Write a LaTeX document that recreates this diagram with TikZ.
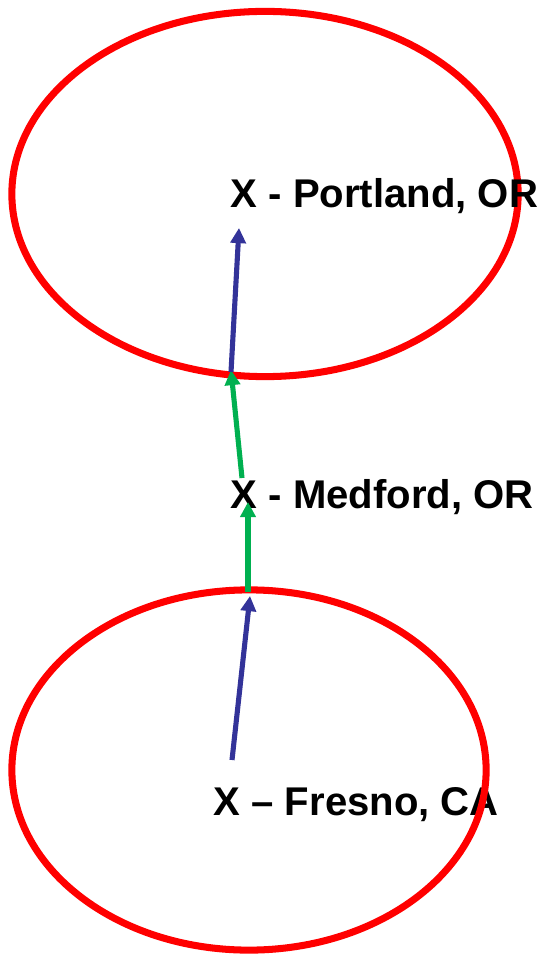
\documentclass[tikz,border=0pt]{standalone}
\usepackage{fontspec}
\setmainfont{Liberation Sans}
\usepackage{tikz}
\usetikzlibrary{arrows.meta,shapes.geometric}
\definecolor{ringred}{RGB}{255,0,0}
\definecolor{legblue}{RGB}{51,51,153}
\definecolor{leggreen}{RGB}{0,176,80}

\begin{document}
\begin{tikzpicture}[
  x=0.01cm,y=-0.01cm,
  ring/.style={ellipse,draw=ringred,line width=2.0pt,inner sep=0pt},
  city/.style={font=\fontsize{11.4pt}{13pt}\selectfont\bfseries,anchor=base west,inner sep=0pt},
  bl/.style={legblue,line width=1.45pt,-{Triangle[length=4.3pt,width=4.3pt]}},
  gr/.style={leggreen,line width=1.45pt,-{Triangle[length=4.3pt,width=4.3pt]}}]

\useasboundingbox (0,0) rectangle (538,958);

% ================= upper region =================
\node[ring,minimum width=5.06cm,minimum height=3.65cm](top) at (265,194){};
\node[city](por) at (230,208){X - Portland, OR};

% ================= middle stop =================
\node[city](med) at (230,508){X - Medford, OR};

% ================= lower region =================
\node[city](fre) at (213,815){X -- Fresno, CA};
\node[ring,minimum width=4.74cm,minimum height=3.60cm](bot) at (249,770){};

% legs
\coordinate (b0) at (232,760); \coordinate (b1) at (250,596);
\coordinate (g0) at (248,592); \coordinate (g1) at (248,502);
\coordinate (g2) at (242,478); \coordinate (g3) at (231,370);
\coordinate (t0) at (231,372); \coordinate (t1) at (239,228);
\draw[bl] (b0)--(b1);
\draw[gr] (g0)--(g1);
\draw[gr] (g2)--(g3);
\draw[bl] (t0)--(t1);
\end{tikzpicture}
\end{document}
